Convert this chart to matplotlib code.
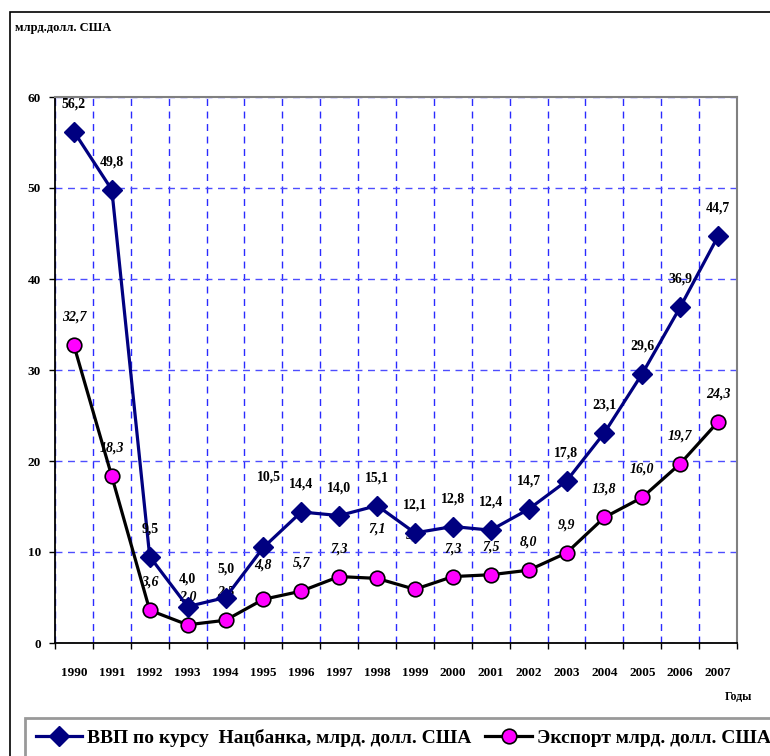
import numpy as np
import matplotlib
matplotlib.use("Agg")
import matplotlib.pyplot as plt
from matplotlib.lines import Line2D
from matplotlib.patches import Rectangle

plt.rcParams['font.family'] = ['Liberation Serif', 'DejaVu Serif']
plt.rcParams['font.weight'] = 'bold'

# данные
years = [str(y) for y in range(1990, 2008)]
gdp = [56.2, 49.8, 9.5, 4.0, 5.0, 10.5, 14.4, 14.0, 15.1, 12.1, 12.8, 12.4,
       14.7, 17.8, 23.1, 29.6, 36.9, 44.7]
export = [32.7, 18.3, 3.6, 2.0, 2.5, 4.8, 5.7, 7.3, 7.1, 5.9, 7.3, 7.5,
          8.0, 9.9, 13.8, 16.0, 19.7, 24.3]
gdp_name = "ВВП по курсу  Нацбанка, млрд. долл. США"
exp_name = "Экспорт млрд. долл. США"

# сдвиги подписей (пиксели), где они отличаются от обычных
gdp_shift = {5: (6, 70)}
exp_shift = {5: (0, 34), 8: (0, 49), 9: (0, 54)}

W, H = 770, 756
fig = plt.figure(figsize=(W / 100, H / 100), dpi=100)
ax = fig.add_axes([55 / W, 1 - 643 / H, (737 - 55) / W, (643 - 97) / H])

x = np.arange(len(years))
ax.plot(x, export, color='black', lw=2.3, marker='o', ms=10.5,
        mfc='#FF00FF', mec='black', mew=1.2, zorder=3)
ax.plot(x, gdp, color='#000080', lw=2.3, marker='D', ms=10.5,
        mfc='#000080', mec='#000080', zorder=4)

def fmt(v):
    return ("%.1f" % v).replace('.', ',')

for i, v in enumerate(gdp):
    dx, dy = gdp_shift.get(i, (0, 28))
    ax.annotate(fmt(v), (x[i], v), xytext=(dx, dy), textcoords='offset pixels',
                ha='center', va='center', fontsize=10, fontweight='bold', zorder=5)
for i, v in enumerate(export):
    dx, dy = exp_shift.get(i, (0, 28))
    ax.annotate(fmt(v), (x[i], v), xytext=(dx, dy), textcoords='offset pixels',
                ha='center', va='center', fontsize=10, fontweight='bold',
                style='italic', zorder=3.5)

ax.set_xlim(-0.5, len(years) - 0.5)
ax.set_ylim(0, 60)
ax.set_yticks(range(0, 61, 10))
ax.set_xticks(x)
ax.set_xticklabels(years)
ax.set_xticks(np.arange(-0.5, len(years), 1), minor=True)
ax.tick_params(axis='x', which='major', length=0, pad=17, labelsize=9.5)
ax.tick_params(axis='x', which='minor', length=4, width=1, direction='out')
ax.tick_params(axis='y', length=4, width=1, direction='out', pad=6, labelsize=9.5)

ax.grid(axis='y', which='major', color='#4d4dff', ls=(0, (5, 4)), lw=1)
ax.grid(axis='x', which='minor', color='#2a2aff', ls=(0, (5, 4)), lw=1)
ax.set_axisbelow(True)

for s in ['top', 'right']:
    ax.spines[s].set_color('#808080')
    ax.spines[s].set_linewidth(1.5)
for s in ['left', 'bottom']:
    ax.spines[s].set_color('black')
    ax.spines[s].set_linewidth(1.3)

fig.text(15 / W, 1 - 28 / H, "млрд.долл. США", fontsize=9, fontweight='bold',
         va='center', ha='left')
fig.text(752 / W, 1 - 697 / H, "Годы", fontsize=8.5, fontweight='bold',
         va='center', ha='right')

# рамка всей диаграммы
fig.patches.append(Rectangle((10 / W, -0.1), 1.2, 1 - 12 / H + 0.1,
                             transform=fig.transFigure, fill=False,
                             ec='black', lw=1.2))

handles = [Line2D([], [], color='#000080', lw=2.3, marker='D', ms=10.5,
                  mfc='#000080', mec='#000080'),
           Line2D([], [], color='black', lw=2.3, marker='o', ms=10.5,
                  mfc='#FF00FF', mec='black', mew=1.2)]
leg = fig.legend(handles, [gdp_name, exp_name], loc='upper left',
                 bbox_to_anchor=(25 / W, 1 - 718 / H), ncol=2,
                 prop={'size': 14, 'weight': 'bold'}, frameon=True,
                 fancybox=False, handlelength=2.4, handletextpad=0.25,
                 columnspacing=0.7, borderpad=0.55, borderaxespad=0)
leg.get_frame().set_edgecolor('#808080')
leg.get_frame().set_linewidth(2)

fig.savefig("out.png", dpi=100)
